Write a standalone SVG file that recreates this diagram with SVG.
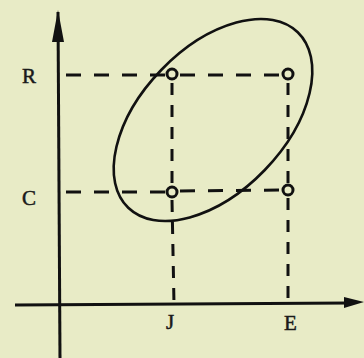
<svg xmlns="http://www.w3.org/2000/svg" width="364" height="358" viewBox="0 0 364 358">
<style>
.axis{stroke:#111;stroke-width:3;fill:none}
.dashH{stroke:#111;stroke-width:3;stroke-dasharray:15 13;fill:none}
.dashV{stroke:#111;stroke-width:3;stroke-dasharray:12 10;fill:none}
.pt{fill:none;stroke:#111;stroke-width:3}
.lbl{font-family:"Liberation Serif",serif;font-size:21px;fill:#1a1a1a;stroke:#1a1a1a;stroke-width:0.5}
</style>
<rect width="364" height="358" fill="#e8ebc6"/>
<g id="connectors">
<line class="axis" x1="60" y1="358" x2="58" y2="12"/>
<path d="M58,10 L64,42 L52,42 Z" fill="#111"/>
<line class="axis" x1="15" y1="305" x2="350" y2="303"/>
<path d="M364,302 L344,297 L344,308 Z" fill="#111"/>
<line class="dashH" x1="66" y1="75" x2="166" y2="75"/>
<line class="dashH" x1="180" y1="75" x2="282" y2="75"/>
<line class="dashH" x1="66" y1="192" x2="166" y2="192"/>
<line class="dashH" x1="180" y1="191" x2="282" y2="190"/>
<line class="dashV" x1="172" y1="83" x2="172" y2="186"/>
<line class="dashV" x1="172" y1="200" x2="174" y2="304"/>
<line class="dashV" x1="288" y1="83" x2="288" y2="184"/>
<line class="dashV" x1="288" y1="198" x2="288" y2="304"/>
</g>
<g id="ellipse">
<ellipse cx="213" cy="120" rx="122" ry="72" transform="rotate(-46 213 120)" fill="none" stroke="#111" stroke-width="2.6"/>
</g>
<g id="points">
<circle class="pt" cx="172" cy="74" r="5"/>
<circle class="pt" cx="288" cy="74" r="5"/>
<circle class="pt" cx="172" cy="192" r="5"/>
<circle class="pt" cx="288" cy="190" r="5"/>
</g>
<g id="labels">
<text class="lbl" x="22" y="83">R</text>
<text class="lbl" x="22" y="205">C</text>
<text class="lbl" x="166" y="329">J</text>
<text class="lbl" x="284" y="330">E</text>
</g>
</svg>
